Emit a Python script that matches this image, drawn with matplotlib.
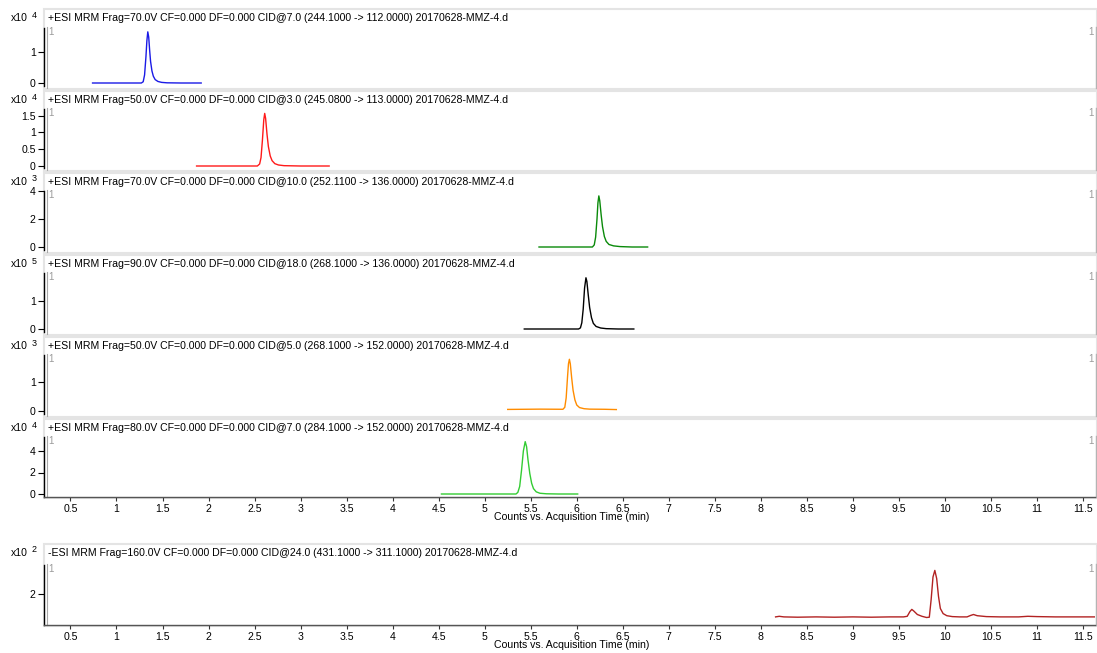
import matplotlib
matplotlib.use("Agg")
import numpy as np
import matplotlib.pyplot as plt
from matplotlib.patches import Rectangle
from matplotlib.lines import Line2D

plt.rcParams['font.family'] = ['Liberation Sans', 'DejaVu Sans']

# ---------------------------------------------------------------- data
titles = [
    "+ESI MRM Frag=70.0V CF=0.000 DF=0.000 CID@7.0 (244.1000 -> 112.0000) 20170628-MMZ-4.d",
    "+ESI MRM Frag=50.0V CF=0.000 DF=0.000 CID@3.0 (245.0800 -> 113.0000) 20170628-MMZ-4.d",
    "+ESI MRM Frag=70.0V CF=0.000 DF=0.000 CID@10.0 (252.1100 -> 136.0000) 20170628-MMZ-4.d",
    "+ESI MRM Frag=90.0V CF=0.000 DF=0.000 CID@18.0 (268.1000 -> 136.0000) 20170628-MMZ-4.d",
    "+ESI MRM Frag=50.0V CF=0.000 DF=0.000 CID@5.0 (268.1000 -> 152.0000) 20170628-MMZ-4.d",
    "+ESI MRM Frag=80.0V CF=0.000 DF=0.000 CID@7.0 (284.1000 -> 152.0000) 20170628-MMZ-4.d",
    "-ESI MRM Frag=160.0V CF=0.000 DF=0.000 CID@24.0 (431.1000 -> 311.1000) 20170628-MMZ-4.d",
]
exponents = [4, 4, 3, 5, 3, 4, 2]

# acquisition time (min) and counts for each transition
t1 = [0.74, 1.00, 1.27, 1.29, 1.305, 1.32, 1.33, 1.34, 1.35, 1.36, 1.37, 1.385, 1.40, 1.42, 1.45, 1.49, 1.55, 1.70, 1.92]
c1 = [0, 0, 0, 400, 2600, 8500, 13600, 16500, 14800, 10600, 7000, 3900, 2200, 1100, 500, 200, 60, 0, 0]

t2 = [1.87, 2.30, 2.53, 2.555, 2.57, 2.585, 2.60, 2.61, 2.62, 2.635, 2.65, 2.67, 2.69, 2.72, 2.76, 2.82, 3.00, 3.31]
c2 = [0, 0, 0, 600, 2500, 7600, 13800, 15700, 14200, 9500, 5800, 3000, 1600, 700, 300, 100, 0, 0]

t3 = [5.59, 5.90, 6.17, 6.19, 6.205, 6.22, 6.23, 6.24, 6.25, 6.265, 6.28, 6.30, 6.32, 6.35, 6.40, 6.47, 6.60, 6.77]
c3 = [0, 0, 0, 150, 700, 2000, 3150, 3650, 3300, 2300, 1450, 750, 400, 180, 80, 30, 0, 0]

t4 = [5.43, 5.80, 6.02, 6.04, 6.055, 6.07, 6.085, 6.10, 6.11, 6.125, 6.14, 6.16, 6.18, 6.21, 6.26, 6.32, 6.45, 6.62]
c4 = [0, 0, 0, 4000, 22000, 70000, 145000, 181000, 168000, 120000, 76000, 40000, 20000, 9000, 3500, 1200, 0, 0]

t5 = [5.25, 5.60, 5.85, 5.87, 5.885, 5.90, 5.91, 5.92, 5.93, 5.945, 5.96, 5.98, 6.00, 6.03, 6.08, 6.14, 6.30, 6.43]
c5 = [45, 55, 50, 120, 450, 1200, 1650, 1810, 1650, 1150, 720, 380, 200, 110, 70, 55, 50, 40]

t6 = [4.53, 5.00, 5.34, 5.36, 5.38, 5.40, 5.42, 5.44, 5.455, 5.47, 5.49, 5.51, 5.53, 5.56, 5.60, 5.67, 5.80, 6.01]
c6 = [0, 0, 0, 1500, 7000, 22000, 40000, 48700, 44000, 32000, 19000, 10000, 5000, 2000, 700, 200, 0, 0]

t7 = [8.16, 8.20, 8.25, 8.40, 8.60, 8.80, 9.00, 9.20, 9.40, 9.55, 9.59, 9.62, 9.64, 9.66, 9.70,
      9.75, 9.80, 9.83, 9.85, 9.87, 9.89, 9.91, 9.93, 9.95, 9.98, 10.02, 10.08, 10.16, 10.24,
      10.28, 10.31, 10.35, 10.45, 10.60, 10.80, 10.90, 11.00, 11.20, 11.40, 11.63]
c7 = [122, 124, 122, 121, 122, 121, 122, 121, 122, 122, 124, 140, 147, 142, 130,
      124, 120, 121, 180, 255, 277, 250, 190, 150, 133, 126, 123, 122, 122,
      127, 130, 126, 123, 122, 122, 124, 123, 122, 122, 122]

times = [t1, t2, t3, t4, t5, t6, t7]
counts = [c1, c2, c3, c4, c5, c6, c7]
colors = ["#1a1ae6", "#ff1a1a", "#0a8a0a", "#000000", "#ff8c00", "#33cc33", "#b22222"]

ytick_values = [[0, 1], [0, 0.5, 1, 1.5], [0, 2, 4], [0, 1], [0, 1], [0, 2, 4], [2]]
ytick_labels = [["0", "1"], ["0", "0.5", "1", "1.5"], ["0", "2", "4"], ["0", "1"],
                ["0", "1"], ["0", "2", "4"], ["2"]]

time_ticks = [0.5, 1, 1.5, 2, 2.5, 3, 3.5, 4, 4.5, 5, 5.5, 6, 6.5, 7, 7.5, 8,
              8.5, 9, 9.5, 10, 10.5, 11, 11.5]
time_tick_labels = ["0.5", "1", "1.5", "2", "2.5", "3", "3.5", "4", "4.5", "5", "5.5",
                    "6", "6.5", "7", "7.5", "8", "8.5", "9", "9.5", "10", "10.5", "11", "11.5"]
x_label = "Counts vs. Acquisition Time (min)"

# ---------------------------------------------------------------- layout (pixels)
W, H = 1097, 653
fig = plt.figure(figsize=(W / 100, H / 100), dpi=100)
FS = 7.6


def fx(x):
    return x / W


def fy(y):
    return 1 - y / H


# frame top, axes top, axes bottom, frame bottom, pixel of reference value, reference value, px per unit
panels = [
    (9, 28, 86, 88, 83.0, 0, 31.0),
    (91, 109, 168, 170, 166.0, 0, 33.5),
    (173, 191, 250, 252, 247.0, 0, 14.0),
    (255, 273, 332, 334, 329.0, 0, 28.3),
    (337, 355, 414, 416, 410.7, 0, 28.4),
    (419, 437, 497, 497, 494.0, 0, 10.75),
    (544, 565, 625, 625, 593.5, 2, 30.0),
]
x_left, x_right = 43.5, 1095.0
time_range = (0.207, 11.63)

for k, (ftop, atop, abot, fbot, ref_px, ref_val, ppu) in enumerate(panels):
    # panel frame with title strip
    fig.patches.append(Rectangle((fx(44), fy(fbot + 1)), fx(1097) - fx(44), fy(ftop) - fy(fbot + 1),
                                 transform=fig.transFigure, facecolor="white",
                                 edgecolor="#e4e4e4", lw=1.5, zorder=-5))
    # inner grey borders of the plot area
    fig.lines.append(Line2D([fx(46.5), fx(46.5)], [fy(atop - 1), fy(fbot)],
                            transform=fig.transFigure, color="#a8a8a8", lw=0.8, zorder=-4))
    fig.lines.append(Line2D([fx(1095.5), fx(1095.5)], [fy(atop - 1), fy(fbot)],
                            transform=fig.transFigure, color="#b4b4b4", lw=1.0, zorder=-4))

    ax = fig.add_axes([fx(x_left), fy(abot), fx(x_right) - fx(x_left), fy(atop) - fy(abot)])
    ax.patch.set_visible(False)
    ax.set_zorder(2)
    scale = 10 ** exponents[k]
    ax.plot(times[k], np.array(counts[k]) / scale, color=colors[k], lw=1.0)
    ax.set_xlim(*time_range)
    ax.set_ylim(ref_val - (abot - ref_px) / ppu, ref_val + (ref_px - atop) / ppu)

    for side in ("top", "right", "bottom"):
        ax.spines[side].set_visible(False)
    ax.spines["left"].set_color("black")
    ax.spines["left"].set_linewidth(1.0)
    ax.set_yticks(ytick_values[k])
    ax.set_yticklabels(ytick_labels[k])
    ax.tick_params(axis="y", length=4, width=0.8, pad=1.5, labelsize=FS, colors="black")

    if k >= 5:
        ax.spines["bottom"].set_visible(True)
        ax.spines["bottom"].set_color("#555555")
        ax.spines["bottom"].set_linewidth(1.0)
        ax.set_xticks(time_ticks)
        ax.set_xticklabels(time_tick_labels)
        ax.tick_params(axis="x", length=3, width=0.8, pad=2, labelsize=FS, colors="#333333")
        ax.tick_params(axis="x", labelcolor="black")
        fig.text(fx(572), fy(abot + 20), x_label, ha="center", va="center", fontsize=FS)
    else:
        ax.set_xticks([])

    ty = ftop + 9
    fig.text(fx(48), fy(ty), titles[k], ha="left", va="center", fontsize=FS)
    fig.text(fx(11), fy(ty), "x10", ha="left", va="center", fontsize=FS)
    fig.text(fx(31.5), fy(ty - 3), str(exponents[k]), ha="left", va="center", fontsize=6.4)

    fig.text(fx(48.5), fy(atop + 4), "1", ha="left", va="center", fontsize=7, color="#9a9a9a")
    fig.text(fx(1093.5), fy(atop + 4), "1", ha="right", va="center", fontsize=7, color="#9a9a9a")

fig.savefig("out.png", dpi=100, facecolor="white")
